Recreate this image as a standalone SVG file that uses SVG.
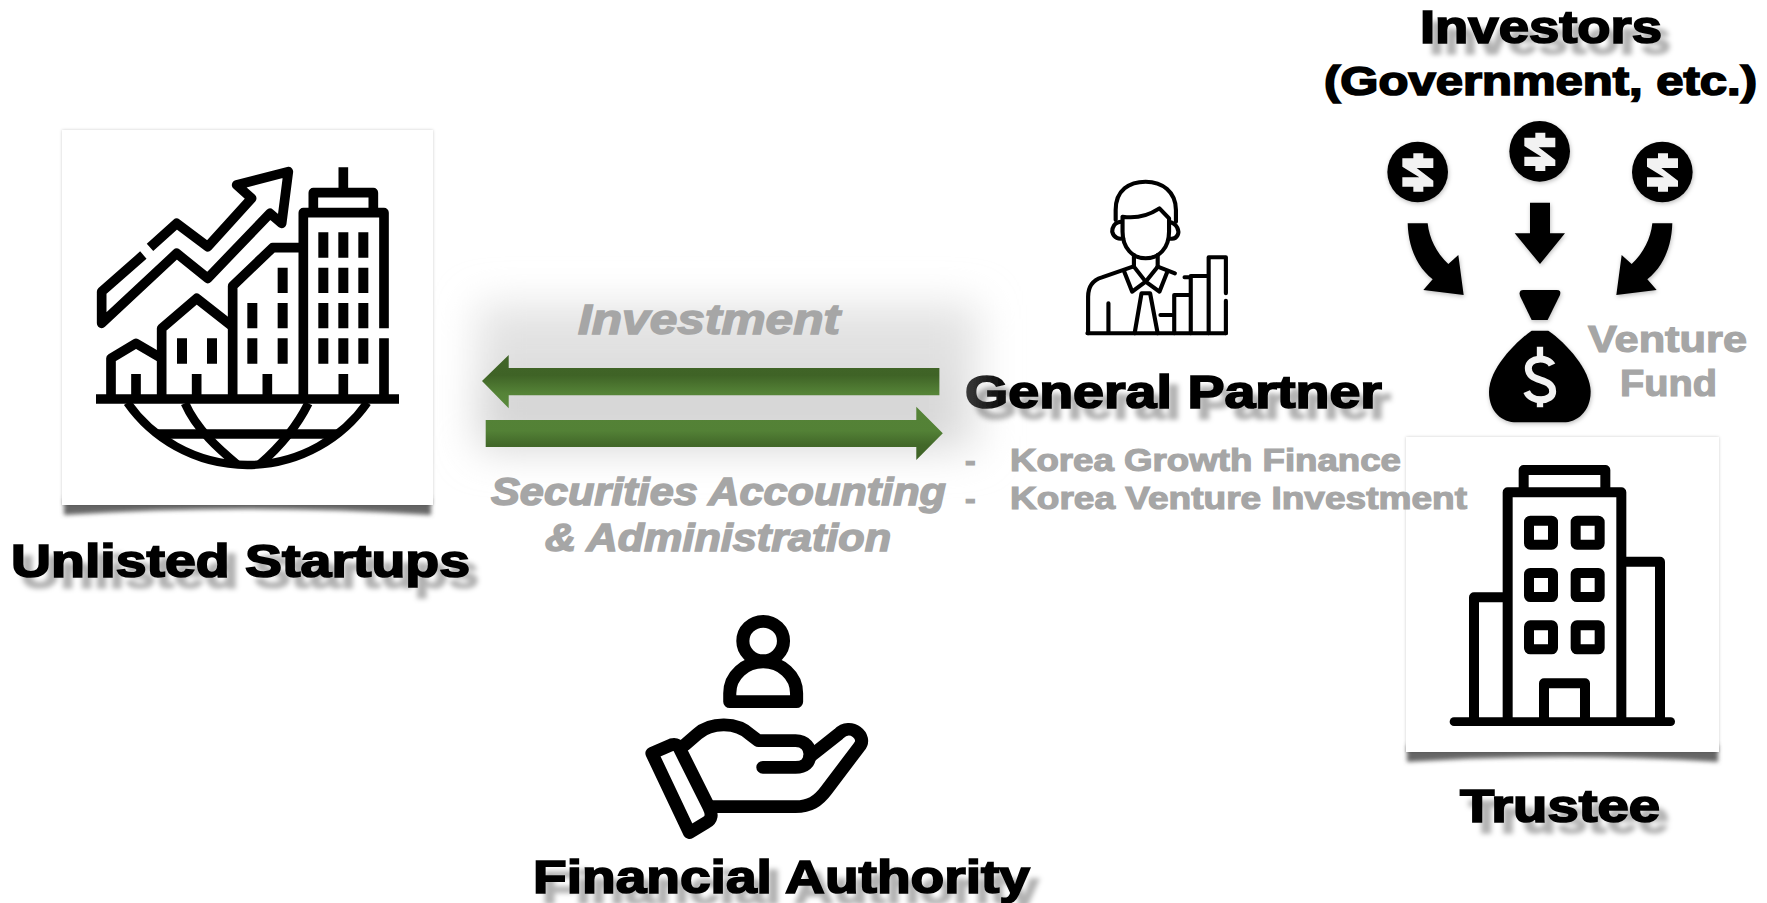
<svg xmlns="http://www.w3.org/2000/svg" width="1767" height="903" viewBox="0 0 1767 903">
<style>
.h{font-family:"Liberation Sans",Arial,sans-serif;font-weight:700;fill:#000;stroke:#000;stroke-width:1.7}
.g{font-family:"Liberation Sans",Arial,sans-serif;font-weight:700;fill:#a6a6a6;stroke:#a6a6a6;stroke-width:1.2}
.i{font-style:italic;stroke-width:1.5}
.ln{fill:none;stroke:#000;stroke-linejoin:round}
.f{fill:#000}
.w{fill:none;stroke:#f2f2f2}
.panel{fill:#fff}
</style>
<defs>
<filter id="ts" x="-10%" y="-40%" width="125%" height="200%"><feDropShadow dx="9" dy="11" stdDeviation="2.6" flood-color="#000" flood-opacity=".3"/></filter>
<filter id="soft" x="-40%" y="-40%" width="180%" height="180%"><feDropShadow dx="2" dy="5" stdDeviation="6" flood-color="#000" flood-opacity=".26"/></filter>
<filter id="b2" x="-5%" y="-100%" width="110%" height="300%"><feGaussianBlur stdDeviation="1.9"/></filter>
<filter id="edge" x="-5%" y="-5%" width="110%" height="110%"><feDropShadow dx="0" dy="0" stdDeviation="1.5" flood-color="#000" flood-opacity=".2"/></filter>
<filter id="glow" x="-30%" y="-60%" width="160%" height="220%"><feGaussianBlur stdDeviation="20"/></filter>
<linearGradient id="up" x1="0" y1="0" x2="0" y2="1"><stop offset="0" stop-color="#416528"/><stop offset=".38" stop-color="#3f6326"/><stop offset=".72" stop-color="#558337"/><stop offset="1" stop-color="#5a8a3c"/></linearGradient>
<linearGradient id="dn" x1="0" y1="0" x2="0" y2="1"><stop offset="0" stop-color="#558337"/><stop offset=".45" stop-color="#538136"/><stop offset=".72" stop-color="#426829"/><stop offset="1" stop-color="#3e6226"/></linearGradient>
<linearGradient id="gp" gradientUnits="userSpaceOnUse" x1="965" y1="0" x2="1012" y2="0"><stop offset="0" stop-color="#3a3a3a"/><stop offset="1" stop-color="#000"/></linearGradient>
<path id="coin" d="M-13 -56H17V-41H47V-12H-3L47 26V44H17V59H-13V44H-46V16H5L-46 -16V-41H-13Z" fill="#f2f2f2"/>
</defs>

<g filter="url(#glow)">
<rect x="478" y="305" width="500" height="145" fill="#e2e2e2"/>
<rect x="478" y="375" width="470" height="72" fill="#d6d6d6"/>
</g>

<g id="connectors">
<path fill="url(#up)" d="M482 381 L508.700 355 V368 H939.400 V395.300 H508.700 V408.300 Z"/>
<path fill="url(#dn)" d="M485.700 420 H916.300 V406.700 L942.800 433.300 L916.300 460 V447 H485.700 Z"/>
<g class="f" filter="url(#soft)" transform="translate(1310 0) scale(.33333)">
<path d="M293 670 H353 C358 720 385 765 415 792 L445 765 L461 885 L340 870 L368 838 C320 800 295 740 293 670 Z"/>
<path d="M660 608 H720 V700 H765 L690 792 L614 700 H660 Z"/>
<path d="M1087 670 H1027 C1022 720 995 765 965 792 L935 765 L919 885 L1040 870 L1012 838 C1060 800 1085 740 1087 670 Z"/>
</g>
</g>

<g id="unlisted-startups">
<path d="M64 498 H431 V515 Q248 503 64 515 Z" fill="#666" filter="url(#b2)"/>
<rect class="panel" x="62" y="130" width="371" height="375" filter="url(#edge)"/>
<g transform="translate(40 110) scale(.33333)">
<g class="ln" stroke-width="29">
<path d="M168 867 H1077"/>
<path d="M262 878 A 440 440 0 0 0 982 878" stroke-width="25"/>
<path d="M352 972 H892"/>
<path d="M435 880 C470 960 540 1020 590 1062" stroke-width="26"/>
<path d="M805 880 C770 950 720 1010 660 1062" stroke-width="26"/>
<path d="M310 435 L185 545 V640 L410 430 L503 505 L690 310 L725 340 L745 185 L590 225 L635 265 L503 410 L410 340 L330 412"/>
<path d="M790 867 V308 H1032 V655 M1032 685 V867"/>
<path d="M820 300 V248 H1000 V300"/>
<path d="M910 172 V248 M910 792 V867 M682 792 V867 M470 792 V867 M288 792 V867"/>
<path d="M578 867 V528 L698 413 H790"/>
<path d="M365 867 V655 L470 565 L578 650"/>
<path d="M213 867 V745 L288 700 L365 745"/>
</g>
<g class="f">
<path d="M835 367h30v76h-30zM895 367h30v76h-30zM955 367h30v76h-30zM835 473h30v76h-30zM895 473h30v76h-30zM955 473h30v76h-30zM835 579h30v76h-30zM895 579h30v76h-30zM955 579h30v76h-30zM835 685h30v76h-30zM895 685h30v76h-30zM955 685h30v76h-30z"/>
<path d="M713 473h30v76h-30zM713 579h30v76h-30zM713 685h30v76h-30zM622 579h30v76h-30zM622 685h30v76h-30z"/>
<path d="M411 685h30v76h-30zM501 685h30v76h-30z"/>
</g>
</g>
<text class="h" x="11" y="577" font-size="46" textLength="459" lengthAdjust="spacingAndGlyphs" filter="url(#ts)">Unlisted Startups</text>
</g>

<g id="general-partner">
<g class="ln" stroke-width="12" stroke-linecap="round" transform="translate(940 160) scale(.34444 .33333)">
<path d="M510 180 V150 C510 90 550 65 597 65 C645 65 685 95 685 150 V185"/>
<path d="M530 170 V215 C530 265 560 295 597 295 C635 295 665 265 665 215 V175 L637 145 C600 170 560 175 530 170 Z"/>
<path d="M528 185 C505 185 500 205 500 215 C505 235 520 238 532 235 M665 185 C690 190 695 215 690 225 C685 235 675 238 665 235"/>
<path d="M563 285 V320 M632 285 V320"/>
<path d="M430 520 V410 C430 380 445 360 470 352 L560 320 M632 320 L682 340"/>
<path d="M535 335 L558 395 L597 365 L637 395 L660 335 M563 320 L597 365 L632 320"/>
<path d="M565 520 L585 400 H610 L632 520"/>
<path d="M489 430 V520 M428 520 H830"/>
<path d="M640 465 H672 M680 520 V405 H725 M728 520 V348 H775 M710 352 H725 M780 520 V292 H830 V400 M830 422 V520"/>
</g>
<text class="h" x="965" y="408" font-size="46" textLength="417" lengthAdjust="spacingAndGlyphs" style="fill:url(#gp);stroke:url(#gp)" filter="url(#ts)">General Partner</text>
</g>

<g id="trustee">
<path d="M1407 745 H1718 V762 Q1562 752 1407 762 Z" fill="#666" filter="url(#b2)"/>
<rect class="panel" x="1406" y="437" width="313" height="315" filter="url(#edge)"/>
<g transform="translate(1380 430) scale(.33333)">
<g class="ln" stroke-width="30">
<path d="M383 865 V187 H724 V865"/>
<path d="M431 175 V120 H676 V175"/>
<path d="M282 865 V502 H380"/>
<path d="M840 865 V395 H730"/>
<path d="M492 865 V760 H615 V865"/>
<path d="M222 875 H872" stroke-width="26" stroke-linecap="round"/>
<rect x="447" y="272" width="72" height="72" rx="4"/><rect x="587" y="272" width="72" height="72" rx="4"/>
<rect x="447" y="429" width="72" height="72" rx="4"/><rect x="587" y="429" width="72" height="72" rx="4"/>
<rect x="447" y="586" width="72" height="72" rx="4"/><rect x="587" y="586" width="72" height="72" rx="4"/>
</g>
</g>
<text class="h" x="1460" y="822" font-size="46" textLength="200" lengthAdjust="spacingAndGlyphs" filter="url(#ts)">Trustee</text>
</g>

<g id="investors">
<g filter="url(#soft)" transform="translate(1310 0) scale(.33333)">
<circle class="f" cx="323" cy="516" r="91"/><circle class="f" cx="689" cy="454" r="91"/><circle class="f" cx="1057" cy="516" r="91"/>
<use href="#coin" x="323" y="516"/><use href="#coin" x="689" y="454"/><use href="#coin" x="1057" y="516"/>
</g>
<text class="h" x="1420" y="43" font-size="46" textLength="242" lengthAdjust="spacingAndGlyphs" filter="url(#ts)">Investors</text>
<text class="h" x="1324" y="95" font-size="41" textLength="433" lengthAdjust="spacingAndGlyphs">(Government, etc.)</text>
</g>

<g id="venture-fund">
<g filter="url(#soft)" transform="translate(1310 0) scale(.33333)">
<path class="f" d="M640 870 H740 Q755 870 750 885 L713 960 H665 L630 888 Q625 870 640 870 Z"/>
<path class="f" d="M665 992 H715 C770 1030 842 1110 842 1175 C842 1235 800 1267 760 1267 H620 C575 1267 537 1235 537 1175 C537 1110 610 1030 665 992 Z"/>
<path class="w" stroke-width="21" d="M726 1095 C715 1070 655 1070 655 1105 C655 1150 728 1130 728 1175 C728 1205 665 1210 650 1175"/>
<path class="w" stroke-width="19" d="M690 1040 V1072 M690 1190 V1222"/>
</g>
<text class="g" x="1588" y="352" font-size="37" textLength="159" lengthAdjust="spacingAndGlyphs">Venture</text>
<text class="g" x="1620" y="396" font-size="37" textLength="97" lengthAdjust="spacingAndGlyphs">Fund</text>
</g>

<g id="gp-members">
<text class="g" font-size="32"><tspan x="965" y="471">-</tspan><tspan x="1010" y="471" textLength="391" lengthAdjust="spacingAndGlyphs">Korea Growth Finance</tspan></text>
<text class="g" font-size="32"><tspan x="965" y="509">-</tspan><tspan x="1010" y="509" textLength="457" lengthAdjust="spacingAndGlyphs">Korea Venture Investment</tspan></text>
</g>

<g id="flow-labels">
<text class="g i" x="578" y="334" font-size="42" textLength="262" lengthAdjust="spacingAndGlyphs">Investment</text>
<text class="g i" x="491" y="505" font-size="38" textLength="455" lengthAdjust="spacingAndGlyphs">Securities Accounting</text>
<text class="g i" x="545" y="551" font-size="38" textLength="346" lengthAdjust="spacingAndGlyphs">&amp; Administration</text>
</g>

<g id="financial-authority">
<g class="ln" stroke-width="38" stroke-linecap="round" transform="translate(520 600) scale(.34444 .33333)">
<circle cx="706" cy="123" r="59"/>
<path d="M609 305 V280 C609 225 655 186 706 186 C757 186 803 225 803 280 V305 Z"/>
<path d="M383 460 L440 434 Q455 430 463 445 L548 620 Q565 655 540 668 L492 698 Z"/>
<path d="M478 435 L515 402 C555 365 630 365 670 405 L692 422 H800 C830 422 842 445 842 462 C842 490 825 502 800 502 H705"/>
<path d="M842 470 L925 402 C960 365 1010 410 985 440 L890 570 C865 605 840 620 800 620 H555"/>
</g>
<text class="h" x="533" y="893" font-size="47" textLength="497" lengthAdjust="spacingAndGlyphs" filter="url(#ts)">Financial Authority</text>
</g>
</svg>
